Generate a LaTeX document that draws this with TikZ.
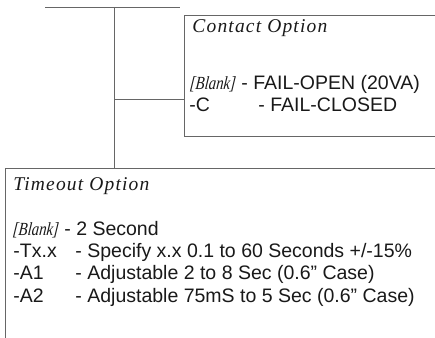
\documentclass[tikz,border=0pt]{standalone}
\usepackage{fontspec}
\setmainfont{Liberation Sans}
\newfontfamily\headfont[LetterSpace=6]{Liberation Serif}
\newfontfamily\blankfont[FakeStretch=0.8,FakeSlant=0.1]{Liberation Serif Italic}
\begin{document}
\begin{tikzpicture}[x=1pt,y=-1pt,line width=0.9pt,
    wire/.style={draw=black!60},
    optbox/.style={draw=black!60,anchor=north west,inner sep=0pt,outer sep=0pt},
    txt/.style={anchor=base west,inner sep=0pt,text=black!90,font=\fontsize{19.5}{22}\selectfont},
    head/.style={anchor=base west,inner sep=0pt,text=black!90,font=\headfont\itshape\fontsize{19.5}{22}\selectfont},
    blank/.style={anchor=base west,inner sep=0pt,text=black!90,font=\blankfont\fontsize{18.5}{22}\selectfont}]
  \useasboundingbox (0,0) rectangle (435,337);
  \clip (0,0) rectangle (435,337);
  \node[optbox,minimum width=270pt,minimum height=121pt] (contact) at (184,15) {};
  \node[optbox,minimum width=450pt,minimum height=200pt] (timeout) at (5,168) {};
  \coordinate (topl) at (45,7);
  \coordinate (topr) at (180,7);
  \coordinate (trunk) at (114,7);
  \coordinate (tap) at (114,99);
  \draw[wire] (topl) -- (topr);
  \draw[wire] (trunk) -- (trunk |- timeout.north);
  \draw[wire] (tap) -- (tap -| contact.west);
  \node[head] (chead) at (192,33) {Contact Option};
  \node[blank] (cblank) at (189,89) {[Blank]};
  \node[txt] (copen) at ([xshift=5pt]cblank.base east) {- FAIL-OPEN (20VA)};
  \node[txt] (cc) at (189,111) {-C};
  \node[txt] (cclosed) at (258,111) {- FAIL-CLOSED};
  \node[head] (thead) at (13,190) {Timeout Option};
  \node[blank] (tblank) at (12,235) {[Blank]};
  \node[txt] (ttwo) at ([xshift=5pt]tblank.base east) {- 2 Second};
  \node[txt] (ttx) at (13,257) {-Tx.x};
  \node[txt] (tspec) at (75,257) {- Specify x.x 0.1 to 60 Seconds +/-15\%};
  \node[txt] (ta1) at (13,279) {-A1};
  \node[txt] (tadj1) at (75,279) {- Adjustable 2 to 8 Sec (0.6" Case)};
  \node[txt] (ta2) at (13,302) {-A2};
  \node[txt] (tadj2) at (75,302) {- Adjustable 75mS to 5 Sec (0.6" Case)};
\end{tikzpicture}
\end{document}
